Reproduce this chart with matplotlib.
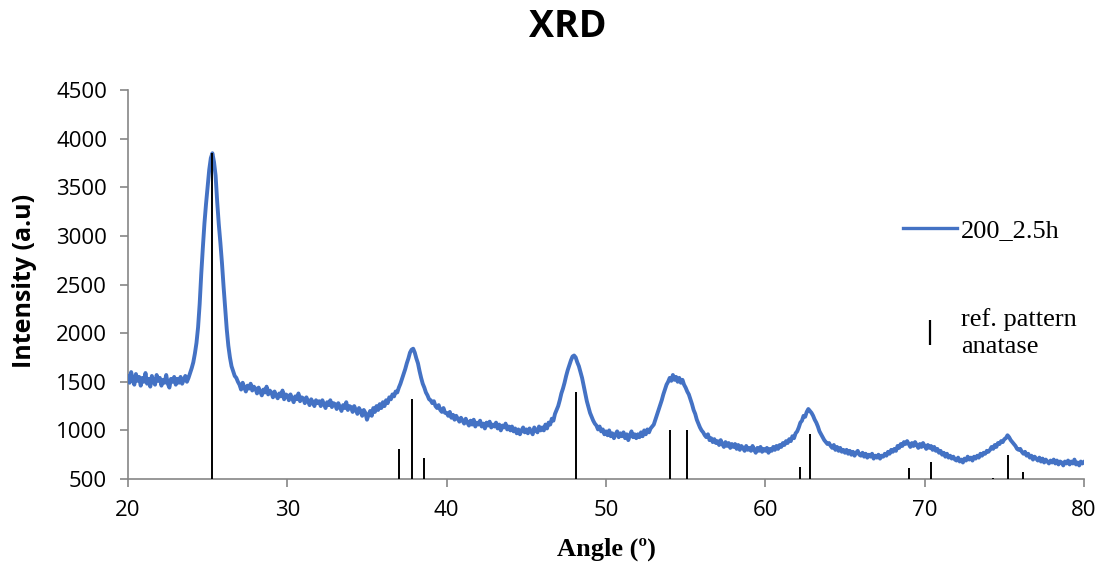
import numpy as np
import matplotlib
matplotlib.use('Agg')
import matplotlib.pyplot as plt
from matplotlib.lines import Line2D


angle = np.round(np.arange(20.0, 80.001, 0.1), 1)

intensity = [
    1560, 1490, 1600, 1520, 1470, 1580, 1510, 1550, 1460, 1540,   # 20
    1500, 1590, 1480, 1530, 1450, 1560, 1500, 1470, 1570, 1510,   # 21
    1540, 1460, 1520, 1490, 1570, 1480, 1440, 1530, 1500, 1550,   # 22
    1470, 1530, 1490, 1550, 1480, 1520, 1560, 1500, 1540, 1590,   # 23
    1640, 1700, 1790, 1900, 2060, 2300, 2610, 2880, 3130, 3330,   # 24
    3500, 3680, 3800, 3850, 3760, 3620, 3350, 3120, 2930, 2720,   # 25
    2480, 2260, 2040, 1870, 1750, 1660, 1610, 1560, 1540, 1500,   # 26
    1470, 1420, 1490, 1440, 1400, 1460, 1430, 1480, 1410, 1450,   # 27
    1430, 1380, 1440, 1400, 1360, 1420, 1390, 1450, 1370, 1410,   # 28
    1390, 1340, 1400, 1360, 1330, 1380, 1350, 1410, 1320, 1370,   # 29
    1360, 1310, 1370, 1330, 1290, 1350, 1320, 1380, 1300, 1340,   # 30
    1330, 1280, 1340, 1300, 1260, 1320, 1290, 1250, 1310, 1280,   # 31
    1300, 1250, 1310, 1270, 1230, 1290, 1260, 1310, 1240, 1280,   # 32
    1270, 1220, 1280, 1240, 1200, 1260, 1230, 1290, 1210, 1250,   # 33
    1240, 1190, 1250, 1210, 1170, 1230, 1200, 1150, 1210, 1180,   # 34
    1110, 1160, 1200, 1150, 1230, 1190, 1250, 1210, 1270, 1230,   # 35
    1290, 1250, 1310, 1280, 1340, 1320, 1370, 1350, 1400, 1390,   # 36
    1440, 1480, 1530, 1580, 1630, 1690, 1740, 1800, 1830, 1840,   # 37
    1800, 1740, 1690, 1610, 1540, 1480, 1440, 1390, 1360, 1320,   # 38
    1310, 1280, 1300, 1250, 1230, 1260, 1210, 1190, 1230, 1180,   # 39
    1180, 1150, 1190, 1130, 1160, 1110, 1150, 1120, 1090, 1130,   # 40
    1100, 1070, 1120, 1080, 1050, 1100, 1060, 1110, 1040, 1080,   # 41
    1060, 1100, 1040, 1070, 1020, 1080, 1050, 1090, 1030, 1060,   # 42
    1040, 1080, 1020, 1060, 1000, 1050, 1030, 1070, 1010, 1040,   # 43
    1000, 1040, 990, 1020, 970, 1010, 960, 1000, 1030, 980,       # 44
    1010, 970, 1020, 990, 960, 1030, 1000, 980, 1040, 1000,       # 45
    1030, 1000, 1060, 1020, 1080, 1060, 1120, 1100, 1170, 1210,   # 46
    1250, 1310, 1380, 1430, 1490, 1560, 1620, 1670, 1720, 1760,   # 47
    1770, 1750, 1700, 1660, 1600, 1540, 1460, 1380, 1300, 1240,   # 48
    1180, 1140, 1100, 1070, 1050, 1010, 1040, 990, 1010, 960,     # 49
    990, 950, 1000, 940, 970, 920, 960, 990, 930, 970,            # 50
    940, 980, 920, 960, 900, 950, 990, 930, 960, 920,             # 51
    960, 930, 980, 940, 1000, 960, 1010, 980, 1020, 1040,         # 52
    1060, 1110, 1160, 1210, 1260, 1310, 1370, 1420, 1470, 1500,   # 53
    1540, 1510, 1570, 1520, 1550, 1500, 1540, 1490, 1520, 1470,   # 54
    1440, 1400, 1370, 1320, 1270, 1210, 1170, 1110, 1070, 1030,   # 55
    1000, 980, 950, 930, 960, 900, 920, 880, 910, 870,            # 56
    890, 850, 900, 860, 830, 880, 840, 870, 820, 860,             # 57
    830, 860, 810, 850, 800, 840, 820, 790, 840, 800,             # 58
    820, 790, 840, 800, 770, 820, 790, 830, 780, 810,             # 59
    790, 820, 770, 810, 790, 830, 800, 840, 810, 850,             # 60
    830, 870, 850, 890, 870, 910, 890, 940, 920, 970,             # 61
    990, 1030, 1080, 1100, 1150, 1140, 1190, 1220, 1200, 1180,    # 62
    1150, 1110, 1080, 1040, 990, 960, 930, 900, 880, 860,         # 63
    870, 840, 820, 850, 800, 830, 790, 820, 780, 800,             # 64
    770, 800, 760, 790, 750, 780, 740, 770, 790, 750,             # 65
    740, 770, 730, 760, 720, 750, 730, 760, 710, 740,             # 66
    720, 750, 710, 740, 730, 760, 740, 780, 760, 800,             # 67
    780, 810, 790, 840, 820, 860, 840, 880, 860, 890,             # 68
    860, 830, 870, 840, 880, 850, 820, 860, 830, 870,             # 69
    840, 810, 850, 820, 840, 800, 830, 790, 810, 770,             # 70
    790, 750, 770, 730, 760, 720, 740, 710, 730, 700,             # 71
    690, 720, 680, 700, 670, 710, 690, 730, 700, 720,             # 72
    690, 730, 710, 740, 720, 760, 740, 770, 760, 790,             # 73
    780, 800, 830, 810, 850, 830, 870, 860, 890, 880,             # 74
    910, 920, 950, 930, 900, 880, 860, 840, 810, 800,             # 75
    810, 780, 760, 780, 740, 760, 720, 740, 700, 730,             # 76
    710, 690, 720, 680, 710, 670, 700, 680, 660, 690,             # 77
    670, 700, 660, 690, 650, 680, 670, 640, 680, 660,             # 78
    690, 650, 680, 660, 700, 650, 670, 640, 680, 660,             # 79
    675,                                                          # 80
]

# Reference pattern (anatase) sticks:
ref_angle = [25.3, 37.0, 37.85, 38.6, 48.1, 54.0, 55.1, 62.2, 62.8,
             69.0, 70.4, 74.3, 75.2, 76.2]
ref_intensity = [3850, 810, 1320, 720, 1400, 1000, 1000, 620, 960,
                 610, 680, 510, 750, 570]


# Figure:

fig = plt.figure(figsize=(11.06, 5.73), dpi=100)
ax = fig.add_axes([0.1157, 0.1640, 0.8644, 0.6789])

blue = '#4472C4'
grey = '#868686'

ax.plot(angle, intensity, color=blue, linewidth=2.8, zorder=3)
ax.vlines(ref_angle, 500, ref_intensity, color='black', linewidth=1.4, zorder=4)

ax.set_xlim(20, 80)
ax.set_ylim(500, 4500)
ax.set_xticks(range(20, 81, 10))
ax.set_yticks(range(500, 4501, 500))

for side in ['top', 'right']:
    ax.spines[side].set_visible(False)
for side in ['left', 'bottom']:
    ax.spines[side].set_color(grey)
    ax.spines[side].set_linewidth(1.2)

ax.tick_params(axis='both', direction='out', length=6, width=1.2,
               color=grey, labelsize=16, pad=9)
for lab in ax.get_xticklabels() + ax.get_yticklabels():
    lab.set_family('Open Sans')

# Labels & title:
ax.set_ylabel('Intensity (a.u)', family='Open Sans', fontweight='bold',
              fontsize=18, va='center')
ax.yaxis.set_label_coords(-0.1085, 0.509)
ax.set_xlabel('Angle (º)', family='Liberation Serif', fontweight='bold',
              fontsize=19, labelpad=12)
fig.text(0.513, 0.953, 'XRD', family='Open Sans', fontweight='bold',
         fontsize=27, ha='center', va='center')

# Legend:
handles = [Line2D([], [], color=blue, linewidth=2.4),
           Line2D([], [], color='black', marker='|', linestyle='none',
                  markersize=18, markeredgewidth=1.6)]
leg = ax.legend(handles, ['200_2.5h', 'ref. pattern\nanatase'],
                loc='upper left', bbox_to_anchor=(0.8165, 0.619),
                bbox_transform=fig.transFigure, frameon=False, borderpad=0,
                borderaxespad=0,
                prop={'family': 'Liberation Serif', 'size': 19},
                handlelength=2.05, handletextpad=0.15, labelspacing=2.5)
leg.get_texts()[1].set_linespacing(1.3)

fig.savefig('out.png', dpi=100)
